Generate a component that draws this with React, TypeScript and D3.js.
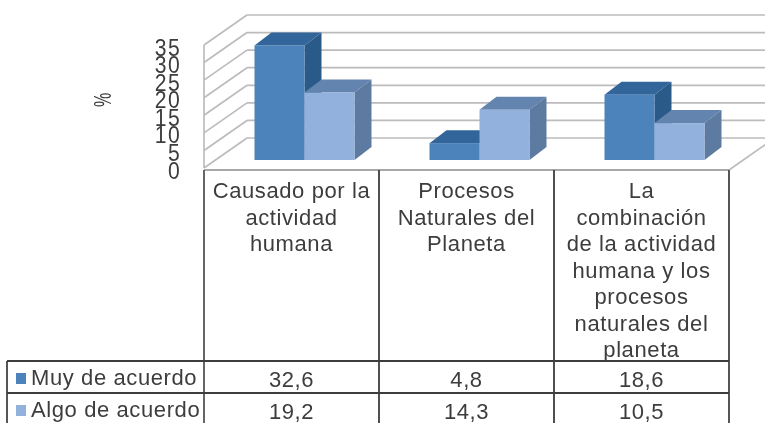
import React from "react"
import * as d3 from "d3"

const categories = ["Causado por la", "Procesos", "La"]
const categoryLines = [
  ["Causado por la", "actividad", "humana"],
  ["Procesos", "Naturales del", "Planeta"],
  ["La", "combinación", "de la actividad", "humana y los", "procesos", "naturales del", "planeta"],
]
const seriesNames = ["Muy de acuerdo", "Algo de acuerdo"]
const muyDeAcuerdo = [32.6, 4.8, 18.6]
const algoDeAcuerdo = [19.2, 14.3, 10.5]
const yTicks = [0, 5, 10, 15, 20, 25, 30, 35]

const WIDTH = 765
const HEIGHT = 423
const DEPTH_X = 17
const DEPTH_Y = -13
const WALL_X = 43
const FONT = "'Liberation Sans', Arial, sans-serif"
const TEXT = "#3c3c3c"
const GRID = "#bcbcbc"

const seriesColors = [
  { front: "#4d83bb", top: "#33659a", side: "#2c5a88" },
  { front: "#92b1dc", top: "#6484ae", side: "#5d7aa0" },
]

const xCol = d3.scaleBand<number>().domain(d3.range(categories.length)).range([204, 729])
const xBar = d3.scaleBand<number>().domain(d3.range(seriesNames.length)).range([50.5, 150.5])
const yFront = d3.scaleLinear().domain([0, 35]).range([168, 45])
const yBack = d3.scaleLinear().domain([0, 35]).range([138, 15])
const yBar = d3.scaleLinear().domain([0, 35]).range([160, 37])
const yLabel = d3.scaleLinear().domain([0, 35]).range([170, 47])

const fmt = (v: number) => v.toFixed(1).replace(".", ",")

function Bar({ x, w, value, colors }: { x: number; w: number; value: number; colors: typeof seriesColors[0] }) {
  const top = yBar(value)
  const bottom = yBar(0)
  const topPath = d3.path()
  topPath.moveTo(x, top)
  topPath.lineTo(x + DEPTH_X, top + DEPTH_Y)
  topPath.lineTo(x + w + DEPTH_X, top + DEPTH_Y)
  topPath.lineTo(x + w, top)
  topPath.closePath()
  const sidePath = d3.path()
  sidePath.moveTo(x + w, top)
  sidePath.lineTo(x + w + DEPTH_X, top + DEPTH_Y)
  sidePath.lineTo(x + w + DEPTH_X, bottom + DEPTH_Y)
  sidePath.lineTo(x + w, bottom)
  sidePath.closePath()
  return (
    <g>
      <path d={topPath.toString()} fill={colors.top} />
      <path d={sidePath.toString()} fill={colors.side} />
      <rect x={x} y={top} width={w} height={bottom - top} fill={colors.front} />
    </g>
  )
}

export default function App() {
  const series = [muyDeAcuerdo, algoDeAcuerdo]
  const colX = categories.map((_, i) => xCol(i) as number)
  const colW = xCol.bandwidth()
  const tableRight = colX[colX.length - 1] + colW
  const rowLines = [361, 393]

  return (
    <svg
      width={WIDTH}
      height={HEIGHT}
      style={{ position: "absolute", left: 0, top: 0, background: "#fff", fontFamily: FONT }}
    >
      <defs>
        <filter id="soft" x="0" y="0" width="100%" height="100%">
          <feGaussianBlur stdDeviation="0.5" />
        </filter>
      </defs>
      <g filter="url(#soft)">
        <rect width={WIDTH} height={HEIGHT} fill="#fff" />

        {/* Walls */}
        {yTicks.map((t) => (
          <g key={t} stroke={GRID} strokeWidth={1.7} fill="none">
            <line x1={204} x2={204 + WALL_X} y1={yFront(t)} y2={yBack(t)} />
            <line x1={204 + WALL_X} x2={WIDTH} y1={yBack(t)} y2={yBack(t)} />
          </g>
        ))}
        <line x1={204} x2={204} y1={yFront(35)} y2={yFront(0)} stroke={GRID} strokeWidth={1.7} />
        <line x1={tableRight} x2={tableRight + WALL_X} y1={170} y2={170 - 30} stroke={GRID} strokeWidth={1.7} />

        {/* Bars */}
        {categories.map((_, c) =>
          series.map((vals, s) => (
            <Bar
              key={`${c}-${s}`}
              x={colX[c] + (xBar(s) as number)}
              w={xBar.bandwidth()}
              value={vals[c]}
              colors={seriesColors[s]}
            />
          ))
        )}

        {/* Y axis: labels overlap in the original, the font is too big for the step */}
        {yTicks.map((t) => (
          <text
            key={t}
            transform={`translate(181,${yLabel(t)}) scale(0.88,1)`}
            dy="0.36em"
            textAnchor="end"
            fontSize={24}
            letterSpacing={1.5}
            fill={TEXT}
          >
            {t}
          </text>
        ))}
        <text
          transform="translate(111,100) rotate(-90) scale(1,1.5)"
          textAnchor="middle"
          fontSize={16}
          fill={TEXT}
        >
          %
        </text>

        {/* Data table */}
        <line x1={204} x2={tableRight} y1={170} y2={170} stroke="#a8a8a8" strokeWidth={2} />
        <line x1={204} x2={204} y1={170} y2={HEIGHT} stroke="#666" strokeWidth={2} />
        {colX.slice(1).map((x) => (
          <line key={x} x1={x} x2={x} y1={170} y2={HEIGHT} stroke="#3c3c3c" strokeWidth={1.8} />
        ))}
        <line x1={tableRight} x2={tableRight} y1={170} y2={HEIGHT} stroke="#555" strokeWidth={2} />
        <line x1={7} x2={7} y1={rowLines[0]} y2={HEIGHT} stroke="#444" strokeWidth={1.8} />
        {rowLines.map((y) => (
          <line key={y} x1={7} x2={tableRight} y1={y} y2={y} stroke="#3c3c3c" strokeWidth={2} />
        ))}

        {categoryLines.map((lines, c) =>
          lines.map((line, i) => (
            <text
              key={line}
              x={colX[c] + colW / 2}
              y={198 + i * 26.5}
              textAnchor="middle"
              fontSize={22}
              letterSpacing={0.6}
              fill={TEXT}
            >
              {line}
            </text>
          ))
        )}

        {seriesNames.map((name, s) => (
          <g key={name}>
            <rect x={16} y={rowLines[s] + 12} width={10} height={11} fill={seriesColors[s].front} />
            <text x={31} y={rowLines[s] + 24} fontSize={22} letterSpacing={0.6} fill={TEXT}>
              {name}
            </text>
            {series[s].map((v, c) => (
              <text
                key={c}
                x={colX[c] + colW / 2}
                y={rowLines[s] + 26}
                textAnchor="middle"
                fontSize={22}
                letterSpacing={0.6}
                fill={TEXT}
              >
                {fmt(v)}
              </text>
            ))}
          </g>
        ))}
      </g>
    </svg>
  )
}
